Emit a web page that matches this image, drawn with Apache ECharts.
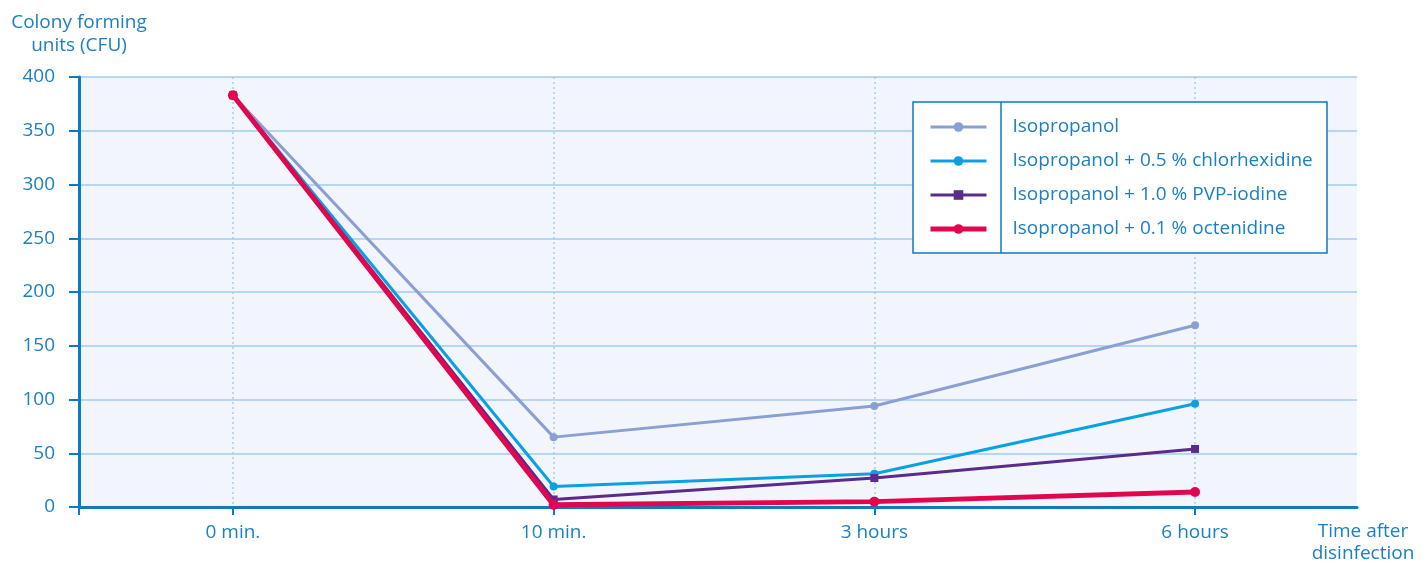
<!DOCTYPE html>
<html>
<head>
<meta charset="utf-8">
<script src="https://cdn.jsdelivr.net/npm/echarts@6/dist/echarts.min.js"></script>
<style>
  html, body { margin: 0; padding: 0; background: #ffffff; }
  #chart { width: 1427px; height: 563px; }
</style>
</head>
<body>
<div id="chart"></div>
<script>
// Time points after disinfection
const categories = ['0 min.', '10 min.', '3 hours', '6 hours'];

// Colony forming units per treatment
const isopropanol = [383, 65, 94, 169];
const chlorhexidine = [383, 19, 31, 96];
const pvpIodine = [383, 7, 27, 54];
const octenidine = [383, 2, 5, 14];

const seriesNames = [
  'Isopropanol',
  'Isopropanol + 0.5 % chlorhexidine',
  'Isopropanol + 1.0 % PVP-iodine',
  'Isopropanol + 0.1 % octenidine'
];

const yTicks = [0, 50, 100, 150, 200, 250, 300, 350, 400];

const textBlue = '#1a7fc4';
const axisBlue = '#0b7bc4';
const gridBlue = '#a3cbee';
const font = 'Open Sans';
const fontSize = 19;

// line styling per series: colour, width, symbol, symbol size
const styles = [
  { color: '#8b9fd4', width: 3, symbol: 'circle', size: 8 },
  { color: '#0aa1e2', width: 3, symbol: 'circle', size: 8 },
  { color: '#5b2a8c', width: 3, symbol: 'rect', size: 8 },
  { color: '#e2064f', width: 5, symbol: 'circle', size: 10 }
];
const seriesData = [isopropanol, chlorhexidine, pvpIodine, octenidine];

const toPoints = arr => arr.map((v, i) => [i, v]);

const chart = echarts.init(document.getElementById('chart'), null, { renderer: 'canvas' });

chart.setOption({
  animation: false,
  textStyle: { fontFamily: font },
  grid: {
    left: 79, right: 70, top: 77, bottom: 56,
    outerBoundsMode: 'none',
    containLabel: false,
    show: true, backgroundColor: '#f2f6fc', borderWidth: 0
  },
  graphic: [
    {
      type: 'rect', z: 90,
      shape: { x: 913, y: 102, width: 414, height: 151 },
      style: { fill: '#ffffff', stroke: axisBlue, lineWidth: 1.5 }
    },
    {
      type: 'line', z: 91,
      shape: { x1: 1001, y1: 102, x2: 1001, y2: 253 },
      style: { stroke: axisBlue, lineWidth: 1.5 }
    }
  ],
  legend: {
    orient: 'vertical',
    left: 914, top: 116,
    z: 100,
    data: seriesNames.map((n, i) => ({
      name: n,
      lineStyle: { width: styles[i].width, color: styles[i].color }
    })),
    itemWidth: 56, itemHeight: 12,
    itemGap: 12,
    padding: [0, 0, 0, 14],
    selectedMode: false,
    textStyle: {
      color: textBlue, fontSize: fontSize, fontFamily: font,
      padding: [0, 0, 0, 21], lineHeight: 22
    }
  },
  xAxis: {
    type: 'value',
    min: -0.48, max: 3.505,
    name: 'Time after\ndisinfection',
    nameLocation: 'end',
    nameGap: 6,
    nameTextStyle: {
      color: textBlue, fontSize: fontSize, fontFamily: font,
      align: 'center', verticalAlign: 'top', lineHeight: 22,
      padding: [14, 0, 0, 0]
    },
    axisLine: { show: true, onZero: false, lineStyle: { color: axisBlue, width: 3 } },
    axisTick: {
      show: true, length: 8, customValues: [-0.48, 0, 1, 2, 3],
      lineStyle: { color: axisBlue, width: 2 }
    },
    axisLabel: {
      customValues: [0, 1, 2, 3],
      formatter: v => categories[Math.round(v)],
      color: textBlue, fontSize: fontSize, fontFamily: font, margin: 16
    },
    splitLine: {
      show: true,
      lineStyle: { color: gridBlue, type: [2, 3], width: 1.5 }
    }
  },
  yAxis: {
    type: 'value',
    min: 0, max: 400, interval: 50,
    name: 'Colony forming\nunits (CFU)',
    nameLocation: 'end',
    nameGap: 20,
    nameTextStyle: {
      color: textBlue, fontSize: fontSize, fontFamily: font,
      align: 'center', verticalAlign: 'bottom', lineHeight: 23
    },
    axisLine: { show: true, onZero: false, lineStyle: { color: axisBlue, width: 3 } },
    axisTick: { show: true, length: 10, lineStyle: { color: axisBlue, width: 2 } },
    axisLabel: {
      color: textBlue, fontSize: fontSize, fontFamily: font, margin: 24,
      formatter: v => (yTicks.indexOf(v) >= 0 ? String(v) : '')
    },
    splitLine: { show: true, lineStyle: { color: gridBlue, width: 1.5 } }
  },
  series: seriesNames.map((name, i) => ({
    name: name,
    type: 'line',
    data: toPoints(seriesData[i]),
    symbol: styles[i].symbol,
    symbolSize: styles[i].size,
    z: 2 + i,
    lineStyle: { color: styles[i].color, width: styles[i].width },
    itemStyle: { color: styles[i].color },
    emphasis: { disabled: true },
    animation: false
  }))
});
</script>
</body>
</html>
